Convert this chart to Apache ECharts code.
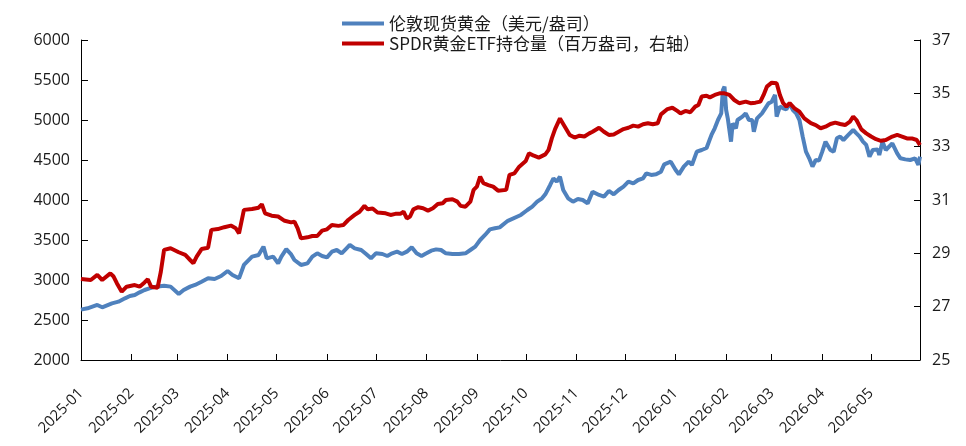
<!DOCTYPE html>
<html>
<head>
<meta charset="utf-8">
<script src="https://cdn.jsdelivr.net/npm/echarts@6/dist/echarts.min.js"></script>
<style>
  html, body { margin: 0; padding: 0; background: #fff; }
  #main { width: 966px; height: 446px; }
</style>
</head>
<body>
<div id="main"></div>
<script>
// 伦敦现货黄金（美元/盎司）
var goldDates = [
  '2025-01-01','2025-01-05','2025-01-11','2025-01-14','2025-01-20','2025-01-24','2025-01-28','2025-01-31',
  '2025-02-03','2025-02-06','2025-02-09','2025-02-12','2025-02-16','2025-02-21','2025-02-25',
  '2025-03-02','2025-03-05','2025-03-09','2025-03-12','2025-03-16','2025-03-20','2025-03-24','2025-03-28',
  '2025-04-01','2025-04-04','2025-04-08','2025-04-11','2025-04-16','2025-04-20','2025-04-23','2025-04-25','2025-04-29',
  '2025-05-02','2025-05-04','2025-05-07','2025-05-10','2025-05-12','2025-05-16','2025-05-20','2025-05-23','2025-05-26','2025-05-29',
  '2025-06-01','2025-06-04','2025-06-07','2025-06-10','2025-06-13','2025-06-15','2025-06-18','2025-06-22','2025-06-25','2025-06-28',
  '2025-07-01','2025-07-05','2025-07-08','2025-07-11','2025-07-14','2025-07-17','2025-07-20','2025-07-23','2025-07-26','2025-07-29',
  '2025-08-01','2025-08-04','2025-08-07','2025-08-10','2025-08-13','2025-08-17','2025-08-21','2025-08-25','2025-08-28','2025-08-31',
  '2025-09-03','2025-09-06','2025-09-09','2025-09-12','2025-09-15','2025-09-20','2025-09-28',
  '2025-10-02','2025-10-05','2025-10-08','2025-10-11','2025-10-13','2025-10-16','2025-10-18','2025-10-20','2025-10-22','2025-10-24','2025-10-27','2025-10-30',
  '2025-11-02','2025-11-05','2025-11-08','2025-11-11','2025-11-15','2025-11-18','2025-11-21','2025-11-24','2025-11-27','2025-11-30',
  '2025-12-03','2025-12-06','2025-12-09','2025-12-12','2025-12-14','2025-12-17','2025-12-20','2025-12-23','2025-12-25','2025-12-29',
  '2026-01-01','2026-01-03','2026-01-06','2026-01-09','2026-01-11','2026-01-14','2026-01-17','2026-01-20','2026-01-22','2026-01-23',
  '2026-01-25','2026-01-27','2026-01-29','2026-01-30','2026-01-31',
  '2026-02-01','2026-02-02','2026-02-04','2026-02-05','2026-02-07','2026-02-08','2026-02-11','2026-02-13','2026-02-15','2026-02-17',
  '2026-02-18','2026-02-20','2026-02-23','2026-02-25','2026-02-27',
  '2026-03-01','2026-03-03','2026-03-04','2026-03-06','2026-03-08','2026-03-10','2026-03-12','2026-03-14','2026-03-16','2026-03-18',
  '2026-03-20','2026-03-22','2026-03-24','2026-03-26','2026-03-28','2026-03-30',
  '2026-04-01','2026-04-03','2026-04-06','2026-04-08','2026-04-10','2026-04-12','2026-04-14','2026-04-17','2026-04-20','2026-04-22',
  '2026-04-24','2026-04-26','2026-04-28','2026-04-30',
  '2026-05-02','2026-05-05','2026-05-06','2026-05-08','2026-05-10','2026-05-14','2026-05-17','2026-05-19','2026-05-22','2026-05-25',
  '2026-05-28','2026-05-30','2026-05-31'
];
var goldValues = [
  2630,2646,2688,2659,2708,2729,2771,2800,
  2813,2846,2875,2896,2917,2929,2917,
  2825,2875,2917,2938,2979,3021,3013,3050,
  3113,3063,3021,3188,3292,3313,3417,3271,3292,
  3208,3292,3385,3320,3250,3188,3208,3292,3333,3300,
  3283,3354,3375,3333,3396,3438,3396,3375,3325,3271,
  3333,3325,3300,3333,3354,3325,3354,3408,3333,3300,
  3333,3367,3383,3375,3333,3325,3325,3333,3375,3417,
  3500,3563,3633,3646,3658,3740,3813,
  3875,3917,3979,4021,4071,4188,4271,4229,4292,4125,4021,3979,
  4013,4000,3958,4104,4063,4042,4113,4071,4125,4167,
  4229,4208,4250,4271,4333,4313,4321,4354,4446,4479,
  4375,4321,4417,4479,4438,4604,4625,4650,4760,4813,
  4896,5000,5083,5375,5417,
  5125,5021,4729,4958,4896,5000,5042,5083,5000,5000,
  4854,5021,5083,5146,5208,
  5229,5313,5042,5167,5146,5133,5208,5125,5083,5000,
  4792,4604,4521,4417,4500,4492,
  4604,4729,4625,4604,4771,4792,4750,4813,4875,4833,
  4792,4729,4688,4542,
  4625,4633,4563,4729,4625,4708,4583,4521,4508,4500,
  4521,4438,4542
];

// SPDR黄金ETF持仓量（百万盎司）
var spdrDates = [
  '2025-01-01','2025-01-07','2025-01-11','2025-01-14','2025-01-19','2025-01-21','2025-01-23','2025-01-26','2025-01-29',
  '2025-02-03','2025-02-06','2025-02-09','2025-02-11','2025-02-13','2025-02-17','2025-02-19','2025-02-21','2025-02-25',
  '2025-03-02','2025-03-06','2025-03-09','2025-03-11','2025-03-13','2025-03-16','2025-03-20','2025-03-22','2025-03-26','2025-03-30',
  '2025-04-03','2025-04-06','2025-04-08','2025-04-11','2025-04-16','2025-04-20','2025-04-22','2025-04-24','2025-04-28',
  '2025-05-02','2025-05-06','2025-05-10','2025-05-12','2025-05-14','2025-05-16','2025-05-20','2025-05-23','2025-05-26','2025-05-29',
  '2025-06-01','2025-06-04','2025-06-08','2025-06-11','2025-06-14','2025-06-18','2025-06-21','2025-06-24','2025-06-26','2025-06-29',
  '2025-07-02','2025-07-07','2025-07-10','2025-07-13','2025-07-16','2025-07-18','2025-07-20','2025-07-22','2025-07-24','2025-07-27','2025-07-30',
  '2025-08-02','2025-08-05','2025-08-08','2025-08-11','2025-08-13','2025-08-17','2025-08-20','2025-08-22','2025-08-25','2025-08-28','2025-08-30',
  '2025-09-01','2025-09-03','2025-09-05','2025-09-08','2025-09-11','2025-09-14','2025-09-19','2025-09-21','2025-09-24','2025-09-27',
  '2025-10-01','2025-10-03','2025-10-06','2025-10-09','2025-10-13','2025-10-15','2025-10-17','2025-10-19','2025-10-22','2025-10-25','2025-10-28','2025-10-31',
  '2025-11-03','2025-11-06','2025-11-09','2025-11-11','2025-11-15','2025-11-18','2025-11-21','2025-11-24','2025-11-27','2025-11-30',
  '2025-12-03','2025-12-06','2025-12-09','2025-12-12','2025-12-15','2025-12-18','2025-12-21','2025-12-23','2025-12-27','2025-12-30',
  '2026-01-02','2026-01-04','2026-01-07','2026-01-10','2026-01-13','2026-01-15','2026-01-17','2026-01-20','2026-01-22','2026-01-25','2026-01-28','2026-01-31',
  '2026-02-03','2026-02-06','2026-02-09','2026-02-13','2026-02-16','2026-02-19','2026-02-22','2026-02-24','2026-02-26',
  '2026-03-01','2026-03-04','2026-03-06','2026-03-08','2026-03-10','2026-03-12','2026-03-15','2026-03-18','2026-03-21','2026-03-25','2026-03-28','2026-03-31',
  '2026-04-03','2026-04-06','2026-04-09','2026-04-12','2026-04-15','2026-04-18','2026-04-20','2026-04-22','2026-04-25','2026-04-28',
  '2026-05-01','2026-05-04','2026-05-07','2026-05-10','2026-05-14','2026-05-17','2026-05-20','2026-05-23','2026-05-26','2026-05-29','2026-05-31'
];
var spdrValues = [
  28.04,28.0,28.19,28.0,28.25,28.13,27.88,27.56,27.75,
  27.81,27.75,27.91,28.03,27.75,27.71,28.31,29.13,29.19,
  29.04,28.94,28.75,28.63,28.88,29.16,29.21,29.88,29.91,29.98,
  30.04,29.94,29.75,30.63,30.66,30.71,30.84,30.5,30.41,
  30.38,30.22,30.16,30.19,29.94,29.56,29.6,29.65,29.65,29.85,
  29.9,30.06,30.03,30.06,30.25,30.44,30.56,30.78,30.65,30.68,
  30.53,30.5,30.44,30.48,30.48,30.56,30.31,30.38,30.65,30.73,30.69,
  30.6,30.69,30.85,30.88,31.0,31.03,30.94,30.78,30.75,30.94,31.38,
  31.5,31.88,31.63,31.56,31.5,31.35,31.38,31.94,32.0,32.25,
  32.46,32.75,32.66,32.59,32.71,32.88,33.31,33.66,34.06,33.75,33.44,33.34,
  33.41,33.38,33.5,33.56,33.71,33.56,33.44,33.46,33.56,33.66,
  33.71,33.79,33.75,33.84,33.88,33.84,33.88,34.21,34.41,34.46,
  34.34,34.25,34.34,34.29,34.5,34.56,34.88,34.91,34.85,34.94,35.0,35.0,
  34.94,34.75,34.63,34.69,34.63,34.65,34.69,34.94,35.25,
  35.4,35.38,34.94,34.63,34.5,34.63,34.44,34.31,34.06,33.88,33.81,33.69,
  33.75,33.85,33.9,33.85,33.81,33.94,34.13,34.0,33.65,33.5,
  33.38,33.28,33.22,33.25,33.38,33.44,33.38,33.31,33.31,33.25,33.06
];

var leftTicks = [2000, 6000, 500];
var rightTicks = [25, 37, 2];

// every calendar day is one category, so months get their true width
var days = [];
for (var t = Date.UTC(2025, 0, 1); t <= Date.UTC(2026, 4, 31); t += 86400000) {
  days.push(new Date(t).toISOString().slice(0, 10));
}
function toSeries(dates, values) {
  var out = days.map(function () { return null; });
  dates.forEach(function (d, i) { out[days.indexOf(d)] = values[i]; });
  return out;
}
function monthStart(index, value) {
  return value.slice(8) === '01';
}

var labelFont = 'Open Sans';
var myChart = echarts.init(document.getElementById('main'));
var option = {
  animation: false,
  backgroundColor: '#fff',
  legend: {
    orient: 'vertical',
    left: 337,
    top: 10,
    itemWidth: 42,
    itemHeight: 4,
    itemGap: 3,
    icon: 'rect',
    textStyle: { fontSize: 17, color: '#1a1a1a', fontFamily: 'Noto Sans CJK JP' },
    data: ['伦敦现货黄金（美元/盎司）', 'SPDR黄金ETF持仓量（百万盎司，右轴）']
  },
  grid: { left: 81, right: 46, top: 40, bottom: 86, containLabel: false },
  xAxis: {
    type: 'category',
    data: days,
    boundaryGap: false,
    axisLine: { lineStyle: { color: '#000', width: 1 } },
    axisTick: { inside: true, length: 6, interval: monthStart, lineStyle: { color: '#000' } },
    axisLabel: {
      interval: monthStart,
      rotate: 45,
      margin: 31,
      fontSize: 15,
      fontFamily: labelFont,
      color: '#1a1a1a',
      formatter: function (v) { return v.slice(0, 7); }
    },
    splitLine: { show: false }
  },
  yAxis: [{
    type: 'value',
    min: leftTicks[0], max: leftTicks[1], interval: leftTicks[2],
    axisLine: { show: true, lineStyle: { color: '#000', width: 1 } },
    axisTick: { show: true, inside: true, length: 7, lineStyle: { color: '#000' } },
    axisLabel: {
      fontSize: 16, fontFamily: labelFont, color: '#1a1a1a', margin: 11,
      formatter: function (v) { return String(v); }
    },
    splitLine: { show: false }
  }, {
    type: 'value',
    position: 'right',
    min: rightTicks[0], max: rightTicks[1], interval: rightTicks[2],
    axisLine: { show: true, lineStyle: { color: '#000', width: 1 } },
    axisTick: { show: true, inside: true, length: 6, lineStyle: { color: '#000' } },
    axisLabel: {
      fontSize: 16, fontFamily: labelFont, color: '#1a1a1a', margin: 12,
      formatter: function (v) { return String(v); }
    },
    splitLine: { show: false }
  }],
  series: [{
    name: '伦敦现货黄金（美元/盎司）',
    type: 'line',
    yAxisIndex: 0,
    data: toSeries(goldDates, goldValues),
    connectNulls: true,
    showSymbol: false,
    itemStyle: { color: '#4F81BD' },
    lineStyle: { color: '#4F81BD', width: 4 }
  }, {
    name: 'SPDR黄金ETF持仓量（百万盎司，右轴）',
    type: 'line',
    yAxisIndex: 1,
    data: toSeries(spdrDates, spdrValues),
    connectNulls: true,
    showSymbol: false,
    itemStyle: { color: '#C00000' },
    lineStyle: { color: '#C00000', width: 4 }
  }]
};
myChart.setOption(option);
</script>
</body>
</html>
